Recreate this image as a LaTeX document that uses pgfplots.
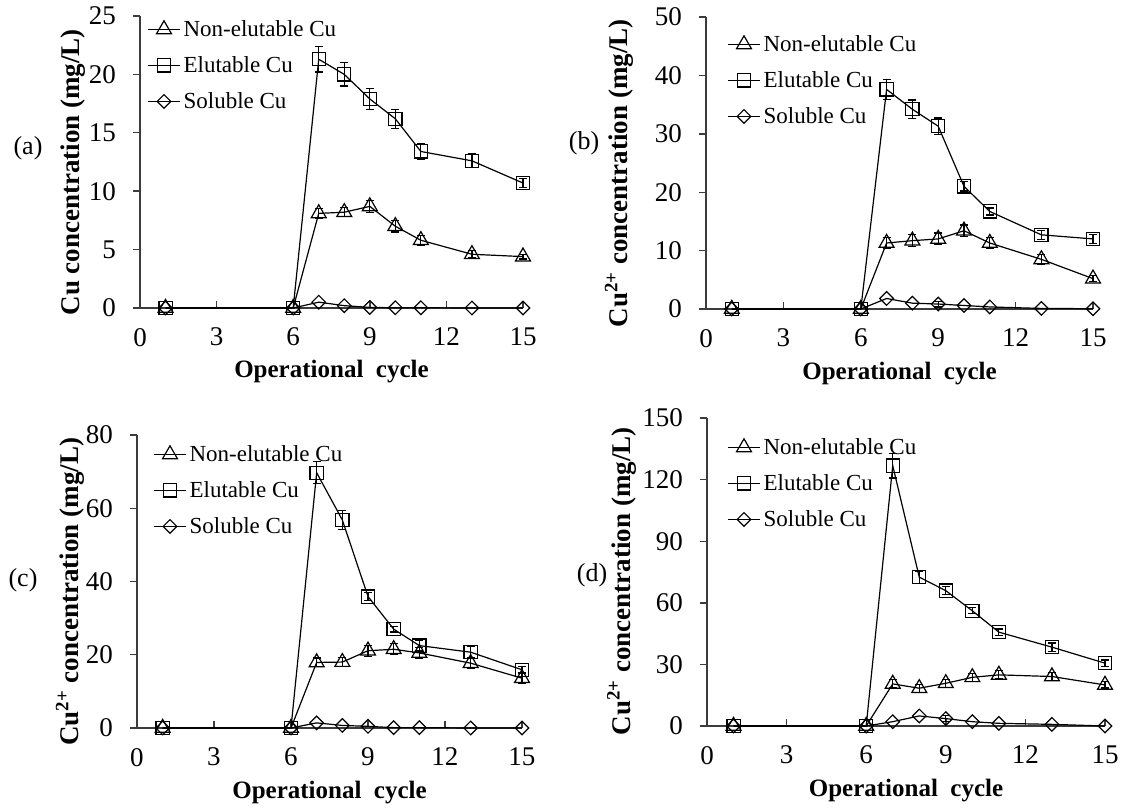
\documentclass[border=0pt]{standalone}
\usepackage{fontspec}
\setmainfont{Liberation Serif}
\usepackage{pgfplots}
\pgfplotsset{compat=1.18}
\definecolor{axgray}{RGB}{60,60,60}
\pgfplotsset{
  panel/.style={
    scale only axis, clip=false,
    xmin=0, xmax=15, xtick={0,3,...,15}, ymin=0,
    axis lines*=left,
    axis line style={draw=axgray, line width=0.7pt, -},
    xtick align=inside, ytick align=outside, major tick length=3.5pt,
    tick style={draw=axgray, line width=0.7pt},
    tick label style={font=\fontsize{13.5}{15}\selectfont},
    /pgf/number format/assume math mode=true,
    xticklabel style={yshift=-6.5pt},
    yticklabel style={xshift=-5pt},
    label style={font=\bfseries\fontsize{12.5}{14}\selectfont},
    ylabel style={font=\bfseries\fontsize{13.5}{16}\selectfont},
    xlabel={Operational\ \ cycle},
    xlabel style={at={(axis description cs:0.5,0)}, anchor=base, yshift=-35pt},
    legend cell align=left,
    legend style={draw=none, fill=none, at={(axis description cs:0,1)}, anchor=north west,
      font=\fontsize{11.5}{13}\selectfont, row sep=6pt, inner sep=0pt, column sep=1pt,
      nodes={inner sep=0.5pt, text height=9pt, text depth=2pt}},
    legend image code/.code={\draw[mark repeat=2, mark phase=2] plot coordinates {(0pt,0pt) (8pt,0pt) (16pt,0pt)};},
  },
  ser/.style={black, line width=0.6pt, mark options={fill=white, solid, line width=0.6pt},
    error bars/y dir=both, error bars/y explicit,
    error bars/error bar style={line width=0.6pt, black},
    error bars/error mark options={rotate=90, mark size=2pt, line width=0.6pt, black}},
  tri/.style={ser, mark=triangle, mark size=4.3pt},
  sqr/.style={ser, mark=square, mark size=3.3pt},
  dia/.style={ser, mark=square, mark size=2.4pt, mark options={rotate=45, fill=white, solid, line width=0.6pt}},
}
\newcommand{\lab}{\fontsize{13}{15}\selectfont}
\begin{document}
\begin{tikzpicture}
\path[use as bounding box] (0,0) rectangle (563pt,405pt);
% ---------- (a)
\begin{axis}[panel, at={(70pt,251pt)}, anchor=south west, width=191.5pt, height=146pt,
  ymax=25, ytick={0,5,...,25},
  ylabel={Cu concentration (mg/L)},
  ylabel style={at={(axis description cs:-0.157,0.465)}, anchor=base},
  legend style={xshift=3.5pt, yshift=-0.5pt}]
\addplot[tri] coordinates {(1,0) (6,0) (7,8.1) +- (0,0.4) (8,8.2) +- (0,0.4) (9,8.7) +- (0,0.5) (10,7.0) +- (0,0.5) (11,5.8) +- (0,0.4) (13,4.6) +- (0,0.3) (15,4.4) +- (0,0.2)};
\addplot[sqr] coordinates {(1,0) (6,0) (7,21.3) +- (0,1.1) (8,20.0) +- (0,1.0) (9,17.9) +- (0,0.9) (10,16.2) +- (0,0.8) (11,13.4) +- (0,0.7) (13,12.6) +- (0,0.6) (15,10.7) +- (0,0.4)};
\addplot[dia] coordinates {(1,0) (6,0) (7,0.5) (8,0.2) (9,0.05) (10,0.02) (11,0.02) (13,0) (15,0)};
\legend{Non-elutable Cu, Elutable Cu, Soluble Cu}
\end{axis}
% ---------- (b)
\begin{axis}[panel, at={(353pt,250.5pt)}, anchor=south west, width=193.5pt, height=146pt,
  ymax=50, ytick={0,10,...,50},
  ylabel={Cu\textsuperscript{2+} concentration (mg/L)},
  ylabel style={at={(axis description cs:-0.202,0.465)}, anchor=base},
  legend style={xshift=10.5pt, yshift=-7.5pt}]
\addplot[tri] coordinates {(1,0) (6,0) (7,11.3) +- (0,1.0) (8,11.7) +- (0,1.0) (9,12.0) +- (0,1.0) (10,13.4) +- (0,1.0) (11,11.3) +- (0,0.9) (13,8.5) +- (0,0.8) (15,5.2) +- (0,0.5)};
\addplot[sqr] coordinates {(1,0) (6,0) (7,37.6) +- (0,1.7) (8,34.2) +- (0,1.6) (9,31.3) +- (0,1.4) (10,21.0) +- (0,0.8) (11,16.7) +- (0,0.6) (13,12.7) +- (0,0.8) (15,12.0) +- (0,0.8)};
\addplot[dia] coordinates {(1,0) (6,0) (7,1.8) (8,1.0) (9,0.85) +- (0,0.5) (10,0.6) (11,0.35) (13,0.1) (15,0.05)};
\legend{Non-elutable Cu, Elutable Cu, Soluble Cu}
\end{axis}
% ---------- (c)
\begin{axis}[panel, at={(68.5pt,41pt)}, anchor=south west, width=192.5pt, height=146.5pt,
  ymax=80, ytick={0,20,...,80},
  ylabel={Cu\textsuperscript{2+} concentration (mg/L)},
  ylabel style={at={(axis description cs:-0.151,0.465)}, anchor=base},
  legend style={xshift=8pt, yshift=-3.5pt}]
\addplot[tri] coordinates {(1,0) (6,0) (7,17.9) +- (0,1.2) (8,18.0) +- (0,1.2) (9,21.1) +- (0,1.5) (10,21.5) +- (0,1.5) (11,20.5) +- (0,1.5) (13,17.7) +- (0,1.5) (15,13.6) +- (0,1.5)};
\addplot[sqr] coordinates {(1,0) (6,0) (7,69.7) +- (0,3.0) (8,56.8) +- (0,2.5) (9,35.9) +- (0,1.0) (10,27.0) +- (0,0.8) (11,22.5) +- (0,1.5) (13,20.7) +- (0,1.5) (15,15.9) +- (0,1.0)};
\addplot[dia] coordinates {(1,0) (6,0) (7,1.4) (8,0.7) (9,0.45) (10,0.1) (11,0.1) (13,0) (15,0)};
\legend{Non-elutable Cu, Elutable Cu, Soluble Cu}
\end{axis}
% ---------- (d)
\begin{axis}[panel, at={(353.5pt,42pt)}, anchor=south west, width=199pt, height=154pt,
  ymax=150, ytick={0,30,...,150},
  ylabel={Cu\textsuperscript{2+} concentration (mg/L)},
  ylabel style={at={(axis description cs:-0.193,0.47)}, anchor=base},
  legend style={xshift=10pt, yshift=-8.5pt}]
\addplot[tri] coordinates {(1,0) (6,0) (7,20.5) +- (0,2) (8,18.4) +- (0,2) (9,20.8) +- (0,2) (10,23.7) +- (0,2) (11,24.9) +- (0,2) (13,24.1) +- (0,2) (15,20.0) +- (0,1.5)};
\addplot[sqr] coordinates {(1,0) (6,0) (7,126.8) +- (0,6) (8,72.5) +- (0,3) (9,65.9) +- (0,2) (10,56.1) +- (0,1.5) (11,45.7) +- (0,1.5) (13,38.4) +- (0,2) (15,30.6) +- (0,1.5)};
\addplot[dia] coordinates {(1,0) (6,0) (7,2.1) (8,4.9) (9,3.6) +- (0,1.5) (10,2.1) (11,1.3) (13,0.8) (15,0)};
\legend{Non-elutable Cu, Elutable Cu, Soluble Cu}
\end{axis}
% panel labels
\node[font=\lab] at (14pt,331pt) {(a)};
\node[font=\lab] at (292pt,333.5pt) {(b)};
\node[font=\lab] at (11.5pt,115pt) {(c)};
\node[font=\lab] at (296pt,117.5pt) {(d)};
\end{tikzpicture}
\end{document}
